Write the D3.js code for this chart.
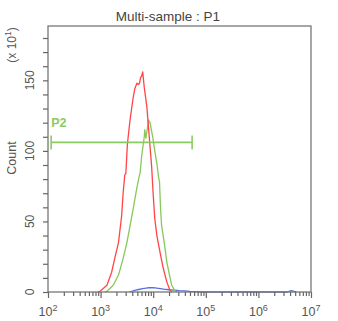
<!DOCTYPE html>
<html lang="en">
<head>
<meta charset="UTF-8">
<title>Multi-sample : P1</title>
<script src="https://cdn.jsdelivr.net/npm/d3@7/dist/d3.min.js"></script>
<style>
body { margin: 0; background: #fff; }
text { font-family: "Liberation Sans", Arial, sans-serif; fill: #555; }
</style>
</head>
<body>
<svg width="338" height="321"></svg>
<script>
// histogram outlines, x as log10 of intensity, y in units of x10
var redLog   = [2.95, 2.99, 3.12, 3.21, 3.27, 3.34, 3.40, 3.43, 3.46, 3.48, 3.51, 3.56, 3.62, 3.65, 3.69, 3.72, 3.74, 3.76, 3.78, 3.80, 3.83, 3.88, 3.91, 3.94, 3.97, 4.00, 4.03, 4.07, 4.13, 4.19, 4.26, 4.32, 4.36];
var redCount = [0, 0.5, 4.8, 14, 24, 35, 54, 71, 83, 84, 105, 122, 138, 144, 148, 147, 148, 152, 153, 156, 145, 131, 117, 103, 89, 69, 52, 40, 28, 17, 7, 1, 0];
var greenLog   = [3.08, 3.12, 3.24, 3.34, 3.43, 3.50, 3.56, 3.62, 3.69, 3.74, 3.75, 3.78, 3.83, 3.84, 3.86, 3.89, 3.91, 3.94, 3.99, 4.03, 4.07, 4.10, 4.12, 4.14, 4.16, 4.21, 4.26, 4.31, 4.35, 4.41, 4.45];
var greenCount = [0, 0.5, 4.8, 12, 24, 35, 47, 59, 74, 83, 84, 96, 110, 115, 109, 116, 122, 120, 110, 100, 91, 82, 78, 59, 47, 35, 21, 12, 5, 1, 0];
var blueLog   = [3.55, 3.62, 3.70, 3.80, 3.90, 4.00, 4.10, 4.20, 4.30, 4.40, 4.50, 4.60, 4.70, 4.80, 4.95, 6.55, 6.62, 6.66, 6.72];
var blueCount = [0, 0.8, 1.6, 2.4, 3.0, 3.1, 2.6, 2.0, 1.6, 1.3, 1.0, 0.8, 0.5, 0.3, 0, 0, 1.0, 0.6, 0];

var xTicks = [1e2, 1e3, 1e4, 1e5, 1e6, 1e7];
var xTickPowers = ["2", "3", "4", "5", "6", "7"];
var yLabelTicks = [0, 50, 100, 150];
var gateLog = [2.06, 4.74];
var gateCount = 106;

var svg = d3.select("svg");
var mLeft = 48, mTop = 26, mRight = 311, mBottom = 292;

var x = d3.scaleLog().domain([1e2, 1e7]).range([mLeft, mRight]);
var y = d3.scaleLinear().domain([0, 188.5]).range([mBottom, mTop]);

// title
svg.append("text").attr("x", 168).attr("y", 21).attr("text-anchor", "middle")
    .style("font-size", "13.5px").style("fill", "#444").text("Multi-sample : P1");

// curves
var line = d3.line().x(function(d) { return x(Math.pow(10, d[0])); }).y(function(d) { return y(d[1]); });
var series = [
    { lg: blueLog, c: blueCount, color: "#5a70d8" },
    { lg: greenLog, c: greenCount, color: "#86c95a" },
    { lg: redLog, c: redCount, color: "#ff4646" }
];
series.forEach(function(s) {
    svg.append("path").datum(d3.zip(s.lg, s.c)).attr("d", line)
        .attr("fill", "none").attr("stroke", s.color).attr("stroke-width", 1.3)
        .attr("stroke-linejoin", "round");
});

// gate P2
var gate = svg.append("g").attr("stroke", "#8ccb62").attr("stroke-width", 1.6);
var gx0 = x(Math.pow(10, gateLog[0])), gx1 = x(Math.pow(10, gateLog[1])), gy = y(gateCount);
gate.append("line").attr("x1", gx0).attr("x2", gx1).attr("y1", gy).attr("y2", gy);
gate.append("line").attr("x1", gx0).attr("x2", gx0).attr("y1", gy - 7).attr("y2", gy + 7);
gate.append("line").attr("x1", gx1).attr("x2", gx1).attr("y1", gy - 7).attr("y2", gy + 7);
svg.append("text").attr("x", gx0).attr("y", gy - 15).style("font-size", "12.5px")
    .style("font-weight", "bold").style("fill", "#8ccb62").text("P2");

// box
svg.append("rect").attr("x", mLeft).attr("y", mTop).attr("width", mRight - mLeft).attr("height", mBottom - mTop)
    .attr("fill", "none").attr("stroke", "#777").attr("stroke-width", 1.3);

// y ticks
var yAxis = d3.axisLeft(y).tickValues(d3.range(0, 190, 10)).tickSize(5).tickFormat("");
var yg = svg.append("g").attr("transform", "translate(" + mLeft + ",0)").call(yAxis);
yg.select(".domain").remove();
yg.selectAll("line").attr("stroke", "#666").attr("stroke-width", 1.2);
yLabelTicks.forEach(function(v) {
    svg.append("text").attr("transform", "translate(34," + y(v) + ") rotate(-90)")
        .attr("text-anchor", "middle").style("font-size", "12px").text(v);
});
svg.append("text").attr("transform", "translate(16,158) rotate(-90)")
    .attr("text-anchor", "middle").style("font-size", "12.5px").text("Count");
var mult = svg.append("text").attr("transform", "translate(16,45) rotate(-90)")
    .attr("text-anchor", "middle").style("font-size", "12px");
mult.append("tspan").text("(x 10");
mult.append("tspan").attr("dy", -5).style("font-size", "8.5px").text("1");
mult.append("tspan").attr("dy", 5).text(")");

// x ticks
var minor = [];
for (var e = 2; e < 7; e++) for (var k = 2; k < 10; k++) minor.push(k * Math.pow(10, e));
var xg = svg.append("g").attr("transform", "translate(0," + mBottom + ")");
xg.call(d3.axisBottom(x).tickValues(minor).tickSize(4).tickFormat(""));
xg.append("g").call(d3.axisBottom(x).tickValues(xTicks).tickSize(6).tickFormat(""));
xg.selectAll(".domain").remove();
xg.selectAll("line").attr("stroke", "#666").attr("stroke-width", 1.2);
xTicks.forEach(function(v, i) {
    var t = svg.append("text").attr("x", x(v)).attr("y", 316).attr("text-anchor", "middle")
        .style("font-size", "12.5px");
    t.append("tspan").text("10");
    t.append("tspan").attr("dy", -5).style("font-size", "9px").text(xTickPowers[i]);
});
</script>
</body>
</html>
